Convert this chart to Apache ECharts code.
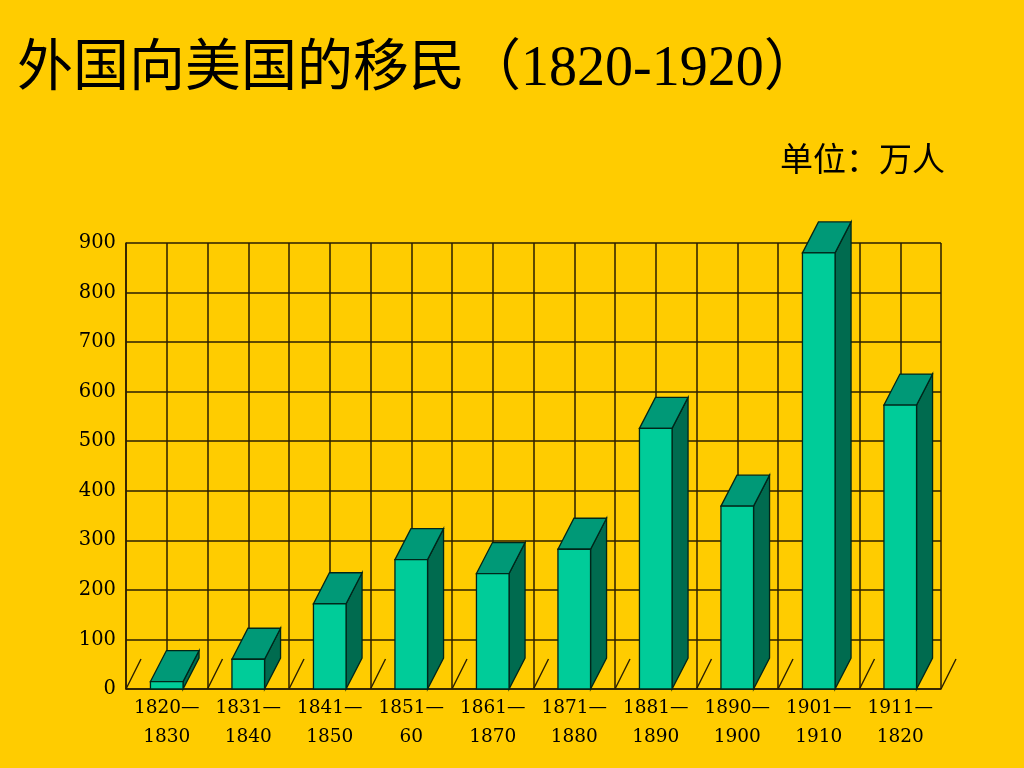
<!DOCTYPE html>
<html>
<head>
<meta charset="utf-8">
<title>外国向美国的移民</title>
<script src="https://cdn.jsdelivr.net/npm/echarts@6/dist/echarts.min.js"></script>
<style>
    html, body { margin: 0; padding: 0; background: #ffcc00; }
    #chart { width: 1024px; height: 768px; }
</style>
</head>
<body>
<div id="chart"></div>
<script>
(function (window) {
    "use strict";

    // 年代分组
    var categories = ['1820—\n1830', '1831—\n1840', '1841—\n1850', '1851—\n60', '1861—\n1870',
        '1871—\n1880', '1881—\n1890', '1890—\n1900', '1901—\n1910', '1911—\n1820'];
    // 移民人数（万人）
    var immigrants = [15, 60, 172, 261, 233, 282, 526, 369, 880, 573];
    // 纵轴刻度
    var yTicks = [0, 100, 200, 300, 400, 500, 600, 700, 800, 900];
    // 地面斜线所在的位置（半格为单位）
    var floorMarks = [0, 2, 4, 6, 8, 10, 12, 14, 16, 18, 20];

    var lineColor = '#2a1e00';
    var depthX = 16, depthY = -31;

    /**
     * 画一根立体柱子：正面、侧面、顶面
     */
    var renderBar = function (params, api) {
        var idx = api.value(0);
        var top = api.coord([idx, api.value(1)]);
        var base = api.coord([idx, 0]);
        var w = api.size([1, 0])[0] * 0.4;
        var l = top[0] - w / 2, r = top[0] + w / 2;
        var edge = { stroke: '#00261a', lineWidth: 1.3 };
        return {
            type: 'group',
            children: [
                {
                    type: 'polygon',
                    shape: { points: [[r, top[1]], [r + depthX, top[1] + depthY], [r + depthX, base[1] + depthY], [r, base[1]]] },
                    style: Object.assign({ fill: '#006b4f' }, edge)
                },
                {
                    type: 'polygon',
                    shape: { points: [[l, top[1]], [l + depthX, top[1] + depthY], [r + depthX, top[1] + depthY], [r, top[1]]] },
                    style: Object.assign({ fill: '#009977' }, edge)
                },
                {
                    type: 'rect',
                    shape: { x: l, y: top[1], width: w, height: base[1] - top[1] },
                    style: Object.assign({ fill: '#00cc99' }, edge)
                }
            ]
        };
    };

    /**
     * 地面上的斜线
     */
    var renderFloor = function (params, api) {
        var p = api.coord([api.value(0), 0]);
        return {
            type: 'line',
            shape: { x1: p[0], y1: p[1], x2: p[0] + 15, y2: p[1] - 30 },
            style: { stroke: lineColor, lineWidth: 1.4 }
        };
    };

    var myChart = window.echarts.init(document.getElementById('chart'));
    var option = {
        backgroundColor: '#ffcc00',
        animation: false,
        title: [
            {
                text: '外国向美国的移民（1820-1920）',
                left: 12,
                top: 37,
                textStyle: {
                    fontFamily: "'Liberation Serif', 'Noto Sans CJK SC'",
                    fontSize: 56,
                    fontWeight: 'normal',
                    color: '#000',
                    lineHeight: 56
                }
            },
            {
                text: '单位：万人',
                right: 74,
                top: 137,
                textStyle: {
                    fontFamily: "'Noto Sans CJK SC'",
                    fontSize: 33,
                    fontWeight: 'normal',
                    color: '#000',
                    lineHeight: 33
                }
            }
        ],
        grid: { left: 126, right: 83, top: 243, bottom: 79 },
        xAxis: [
            {
                type: 'category',
                data: categories,
                boundaryGap: true,
                axisLine: { show: true, lineStyle: { color: lineColor, width: 1.5 } },
                axisTick: { show: false },
                splitLine: { show: false },
                axisLabel: {
                    interval: 0,
                    margin: 5,
                    color: '#000',
                    fontFamily: "'DejaVu Serif'",
                    fontSize: 18.5,
                    lineHeight: 29
                }
            },
            {
                type: 'value',
                position: 'top',
                min: 0,
                max: 20,
                interval: 1,
                axisLine: { show: false },
                axisTick: { show: false },
                axisLabel: { show: false },
                splitLine: { show: true, lineStyle: { color: lineColor, width: 1.5 } }
            }
        ],
        yAxis: {
            type: 'value',
            min: yTicks[0],
            max: yTicks[yTicks.length - 1],
            interval: yTicks[1] - yTicks[0],
            axisLine: { show: true, lineStyle: { color: lineColor, width: 1.5 } },
            axisTick: { show: false },
            splitLine: { show: true, lineStyle: { color: lineColor, width: 1.5 } },
            axisLabel: {
                margin: 10,
                color: '#000',
                fontFamily: "'DejaVu Serif'",
                fontSize: 19.5
            }
        },
        series: [
            {
                type: 'custom',
                xAxisIndex: 1,
                renderItem: renderFloor,
                data: floorMarks.map(function (v) { return [v]; }),
                silent: true
            },
            {
                name: '移民',
                type: 'custom',
                xAxisIndex: 0,
                renderItem: renderBar,
                clip: false,
                data: immigrants.map(function (v, i) { return [i, v]; })
            }
        ]
    };
    myChart.setOption(option);

})(window);
</script>
</body>
</html>
